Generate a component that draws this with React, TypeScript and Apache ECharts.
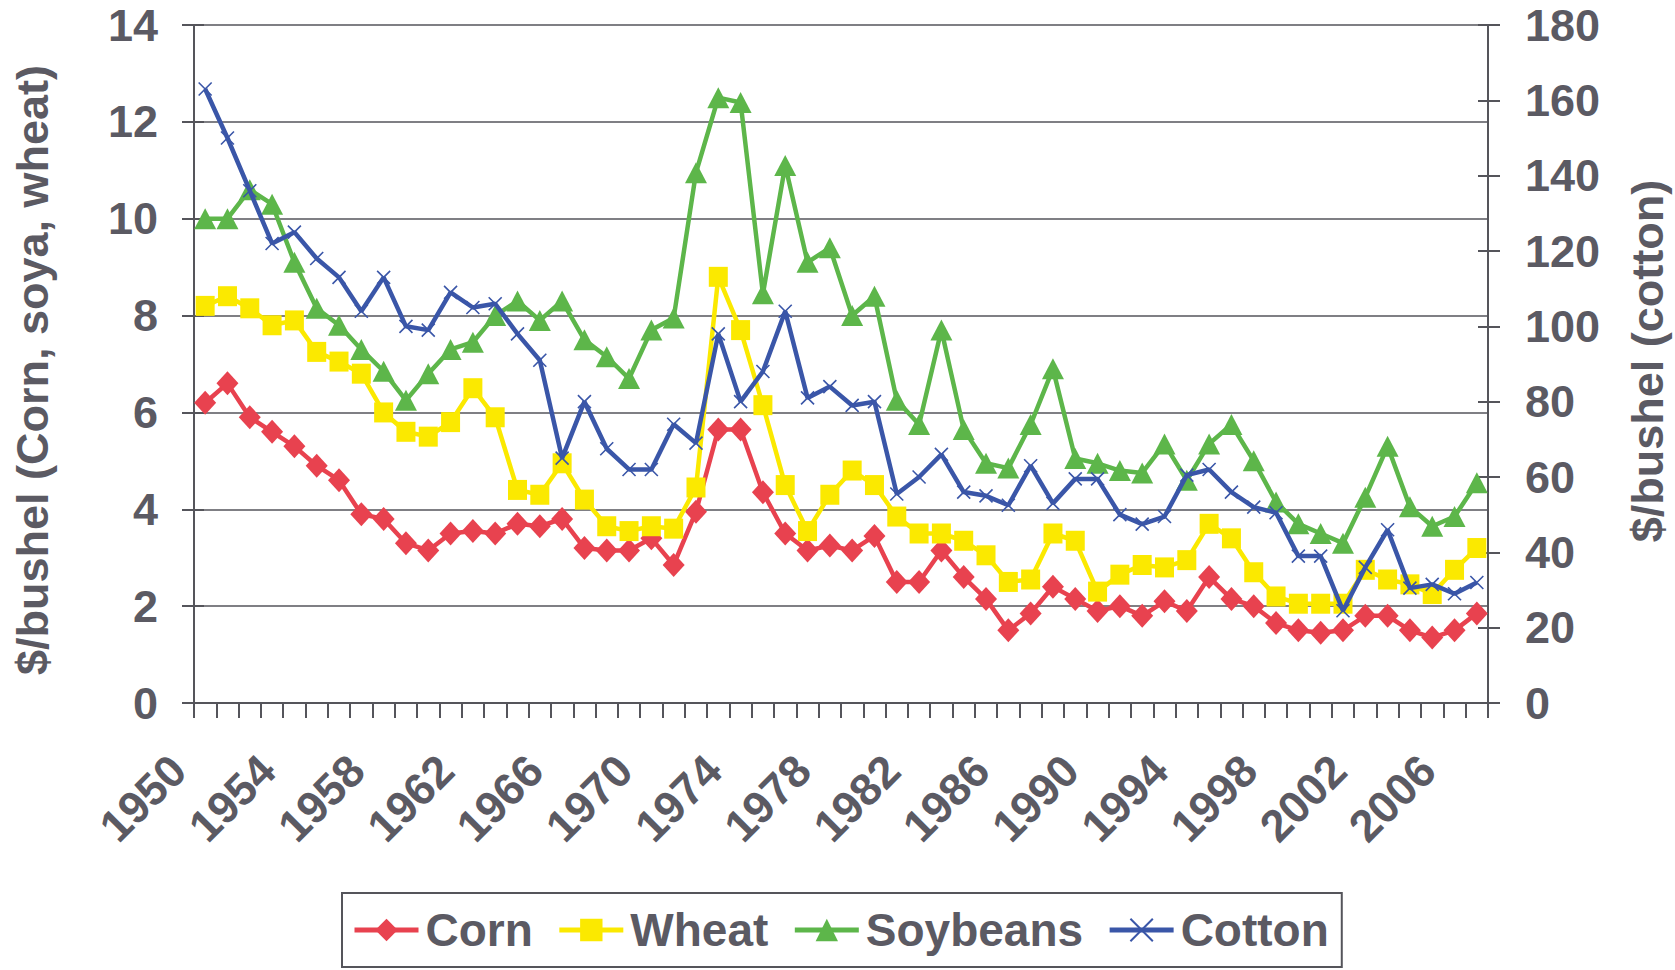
import React, { useEffect, useRef } from "react";
import * as echarts from "echarts";

const years = [
  "1950", "1951", "1952", "1953", "1954", "1955", "1956", "1957", "1958", "1959",
  "1960", "1961", "1962", "1963", "1964", "1965", "1966", "1967", "1968", "1969",
  "1970", "1971", "1972", "1973", "1974", "1975", "1976", "1977", "1978", "1979",
  "1980", "1981", "1982", "1983", "1984", "1985", "1986", "1987", "1988", "1989",
  "1990", "1991", "1992", "1993", "1994", "1995", "1996", "1997", "1998", "1999",
  "2000", "2001", "2002", "2003", "2004", "2005", "2006", "2007",
];

const corn = [
  6.2, 6.6, 5.9, 5.6, 5.3, 4.9, 4.6, 3.9, 3.8, 3.3,
  3.15, 3.5, 3.55, 3.5, 3.7, 3.65, 3.8, 3.2, 3.15, 3.15,
  3.4, 2.85, 3.95, 5.65, 5.65, 4.35, 3.5, 3.15, 3.25, 3.15,
  3.45, 2.5, 2.5, 3.15, 2.6, 2.15, 1.5, 1.85, 2.4, 2.15,
  1.9, 2.0, 1.8, 2.1, 1.9, 2.6, 2.15, 2.0, 1.65, 1.5,
  1.45, 1.5, 1.8, 1.8, 1.5, 1.35, 1.5, 1.85,
];

const wheat = [
  8.2, 8.4, 8.15, 7.8, 7.9, 7.25, 7.05, 6.8, 6.0, 5.6,
  5.5, 5.8, 6.5, 5.9, 4.4, 4.3, 4.95, 4.2, 3.65, 3.55,
  3.65, 3.6, 4.45, 8.8, 7.7, 6.15, 4.5, 3.55, 4.3, 4.8,
  4.5, 3.85, 3.5, 3.5, 3.35, 3.05, 2.5, 2.55, 3.5, 3.35,
  2.3, 2.65, 2.85, 2.8, 2.95, 3.7, 3.4, 2.7, 2.2, 2.05,
  2.05, 2.05, 2.75, 2.55, 2.45, 2.25, 2.75, 3.2,
];

const soybeans = [
  10.0, 10.0, 10.6, 10.3, 9.1, 8.15, 7.8, 7.3, 6.85, 6.25,
  6.8, 7.3, 7.45, 8.0, 8.3, 7.9, 8.3, 7.5, 7.15, 6.7,
  7.7, 7.95, 10.95, 12.5, 12.4, 8.45, 11.1, 9.1, 9.4, 8.0,
  8.4, 6.25, 5.75, 7.7, 5.65, 4.95, 4.85, 5.75, 6.9, 5.05,
  4.95, 4.8, 4.75, 5.35, 4.6, 5.35, 5.75, 5.0, 4.15, 3.7,
  3.5, 3.3, 4.25, 5.3, 4.05, 3.65, 3.85, 4.55,
];

const cotton = [
  163, 150, 136, 122, 125, 118, 113, 104, 113, 100,
  99, 109, 105, 106, 98, 91, 65, 80, 67.5, 62,
  62, 74, 69, 98, 80, 88, 104, 81, 84, 79,
  80, 55.5, 60, 66, 56, 55, 52.5, 63, 53, 59.5,
  59.5, 50, 47.5, 49.5, 60.5, 62, 56, 52, 50.5, 39,
  39, 24.5, 36, 46, 30.5, 31.5, 29, 32,
];

const seriesNames = ["Corn", "Wheat", "Soybeans", "Cotton"];
const leftTitle = "$/bushel (Corn, soya, wheat)";
const rightTitle = "$/bushel (cotton)";

const FONT = "'Liberation Sans', Arial, Helvetica, sans-serif";
const TEXT = "#5b5a63";
const AXIS = "#55555b";
const RED = "#e8424f";
const YELLOW = "#fbe900";
const GREEN = "#5db64a";
const BLUE = "#3a56a8";

export default function App() {
  const ref = useRef<HTMLDivElement>(null);

  useEffect(() => {
    if (!ref.current) return;
    const chart = echarts.init(ref.current, undefined, { renderer: "svg" });

    const labelStyle = {
      fontFamily: FONT,
      fontWeight: "bold" as const,
      fontSize: 45,
      color: TEXT,
    };

    const option: any = {
      animation: false,
      backgroundColor: "#ffffff",
      grid: {
        left: 194,
        right: 187,
        top: 25,
        bottom: 267,
        containLabel: false,
        outerBoundsMode: "none",
      },
      legend: {
        data: seriesNames,
        left: 342,
        top: 893,
        orient: "horizontal",
        itemWidth: 64,
        itemHeight: 28,
        itemGap: 24,
        padding: [14, 13, 14, 10],
        borderColor: AXIS,
        borderWidth: 2,
        lineStyle: { width: 5 },
        textStyle: { ...labelStyle, fontSize: 46, padding: [0, 0, 0, 2] },
      },
      xAxis: {
        type: "category",
        data: years,
        boundaryGap: true,
        axisLine: { show: true, lineStyle: { color: AXIS, width: 2 } },
        axisTick: {
          show: true,
          interval: 0,
          length: 15,
          alignWithLabel: false,
          lineStyle: { color: AXIS, width: 2 },
        },
        axisLabel: {
          interval: 3,
          rotate: 45,
          margin: 33,
          padding: [0, 38, 0, 0],
          ...labelStyle,
          fontSize: 45,
        },
        splitLine: { show: false },
      },
      yAxis: [
        {
          type: "value",
          position: "left",
          min: 0,
          max: 14,
          interval: 2,
          axisLine: { show: true, lineStyle: { color: AXIS, width: 2 } },
          axisTick: { show: true, inside: false, length: 12, lineStyle: { color: AXIS, width: 2 } },
          axisLabel: { margin: 36, ...labelStyle },
          splitLine: { show: true, lineStyle: { color: AXIS, width: 1.6 } },
        },
        {
          type: "value",
          position: "right",
          min: 0,
          max: 180,
          interval: 20,
          axisLine: { show: true, lineStyle: { color: AXIS, width: 2 } },
          axisTick: { show: true, inside: false, length: 12, lineStyle: { color: AXIS, width: 2 } },
          axisLabel: { margin: 37, ...labelStyle },
          splitLine: { show: false },
        },
        {
          type: "value",
          position: "left",
          min: 0,
          max: 14,
          interval: 2,
          axisLine: { show: false },
          axisTick: { show: true, inside: true, length: 10, lineStyle: { color: AXIS, width: 2 } },
          axisLabel: { show: false },
          splitLine: { show: false },
        },
        {
          type: "value",
          position: "right",
          min: 0,
          max: 180,
          interval: 20,
          axisLine: { show: false },
          axisTick: { show: true, inside: true, length: 10, lineStyle: { color: AXIS, width: 2 } },
          axisLabel: { show: false },
          splitLine: { show: false },
        },
      ],
      graphic: [
        {
          type: "text",
          x: 32,
          y: 370,
          rotation: Math.PI / 2,
          style: {
            text: leftTitle,
            fontFamily: FONT,
            fontWeight: "bold",
            fontSize: 45,
            fill: TEXT,
            textAlign: "center",
            textVerticalAlign: "middle",
          },
        },
        {
          type: "text",
          x: 1647,
          y: 361,
          rotation: Math.PI / 2,
          style: {
            text: rightTitle,
            fontFamily: FONT,
            fontWeight: "bold",
            fontSize: 45,
            fill: TEXT,
            textAlign: "center",
            textVerticalAlign: "middle",
          },
        },
      ],
      series: [
        {
          name: "Corn",
          type: "line",
          yAxisIndex: 0,
          data: corn,
          showAllSymbol: true,
          symbol: "diamond",
          symbolSize: [22, 24],
          lineStyle: { color: RED, width: 4.5 },
          itemStyle: { color: RED },
          z: 2,
        },
        {
          name: "Wheat",
          type: "line",
          yAxisIndex: 0,
          data: wheat,
          showAllSymbol: true,
          symbol: "rect",
          symbolSize: [19, 20],
          lineStyle: { color: YELLOW, width: 4.5 },
          itemStyle: { color: YELLOW },
          z: 3,
        },
        {
          name: "Soybeans",
          type: "line",
          yAxisIndex: 0,
          data: soybeans,
          showAllSymbol: true,
          symbol: "triangle",
          symbolSize: [22, 21],
          lineStyle: { color: GREEN, width: 4.5 },
          itemStyle: { color: GREEN },
          z: 4,
        },
        {
          name: "Cotton",
          type: "line",
          yAxisIndex: 1,
          data: cotton,
          showAllSymbol: true,
          symbol: "path://M0,0L10,10M10,0L0,10",
          symbolSize: 13,
          lineStyle: { color: BLUE, width: 4.5 },
          itemStyle: { color: BLUE, borderColor: BLUE, borderWidth: 1.6 },
          z: 5,
        },
      ],
    };

    chart.setOption(option);
    return () => {
      chart.dispose();
    };
  }, []);

  return (
    <div
      ref={ref}
      style={{ position: "fixed", left: 0, top: 0, width: "1675px", height: "970px", background: "#fff" }}
    />
  );
}
